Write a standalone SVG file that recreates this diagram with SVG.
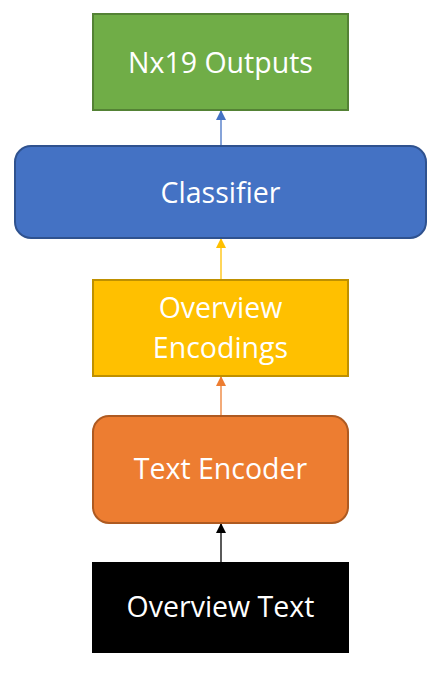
<svg xmlns="http://www.w3.org/2000/svg" width="448" height="674" viewBox="0 0 448 674">
<style>
text{font-family:"Open Sans","Noto Sans","DejaVu Sans",sans-serif;font-size:28.5px;fill:#fff;text-anchor:middle}
.c{stroke-width:1.3;fill:none}
</style>
<defs>
<marker id="ab" markerWidth="10" markerHeight="10" refX="9" refY="5" orient="auto" markerUnits="userSpaceOnUse"><path d="M0,0 L10,5 L0,10 Z" fill="#4472C4"/></marker>
<marker id="ay" markerWidth="10" markerHeight="10" refX="9" refY="5" orient="auto" markerUnits="userSpaceOnUse"><path d="M0,0 L10,5 L0,10 Z" fill="#FFC000"/></marker>
<marker id="ao" markerWidth="10" markerHeight="10" refX="9" refY="5" orient="auto" markerUnits="userSpaceOnUse"><path d="M0,0 L10,5 L0,10 Z" fill="#ED7D31"/></marker>
<marker id="ak" markerWidth="10" markerHeight="10" refX="9" refY="5" orient="auto" markerUnits="userSpaceOnUse"><path d="M0,0 L10,5 L0,10 Z" fill="#000"/></marker>
</defs>
<rect width="448" height="674" fill="#fff"/>
<g id="connectors">
<line class="c" x1="221" y1="146" x2="221" y2="111" stroke="#4472C4" marker-end="url(#ab)"/>
<line class="c" x1="221" y1="280" x2="221" y2="239" stroke="#FFC000" marker-end="url(#ay)"/>
<line class="c" x1="221" y1="416" x2="221" y2="377" stroke="#ED7D31" marker-end="url(#ao)"/>
<line class="c" x1="221" y1="562" x2="221" y2="524" stroke="#000" marker-end="url(#ak)"/>
</g>
<g id="outputs">
<rect x="93" y="14" width="255" height="96" fill="#70AD47" stroke="#548235" stroke-width="2"/>
<text x="220.5" y="73">Nx19 Outputs</text>
</g>
<g id="classifier">
<rect x="15" y="146" width="411" height="92" rx="16" fill="#4472C4" stroke="#2F528F" stroke-width="2"/>
<text x="220.5" y="203">Classifier</text>
</g>
<g id="encodings">
<rect x="93" y="280" width="255" height="96" fill="#FFC000" stroke="#BF9000" stroke-width="2"/>
<text x="220.5" y="318">Overview</text>
<text x="220.5" y="358">Encodings</text>
</g>
<g id="encoder">
<rect x="93" y="416" width="255" height="107" rx="16" fill="#ED7D31" stroke="#AE5A21" stroke-width="2"/>
<text x="220.5" y="479">Text Encoder</text>
</g>
<g id="overview-text">
<rect x="92" y="562" width="257" height="91" fill="#000"/>
<text x="220.5" y="617">Overview Text</text>
</g>
</svg>
